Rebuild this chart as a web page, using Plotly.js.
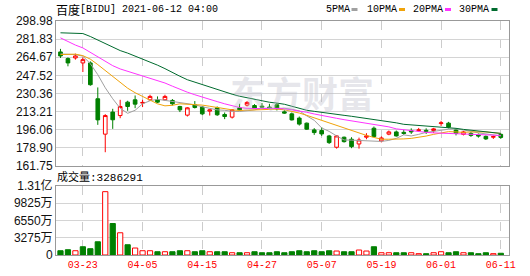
<!DOCTYPE html>
<html><head><meta charset="utf-8">
<script src="https://cdn.plot.ly/plotly-3.0.1.min.js"></script>
<style>html,body{margin:0;padding:0;background:#fff}#chart{width:530px;height:276px}</style>
</head><body><div id="chart"></div>
<script>
const dates = ['03-18','03-19','03-22','03-23','03-24','03-25','03-26','03-29','03-30','03-31','04-01',
'04-05','04-06','04-07','04-08','04-09','04-12','04-13','04-14','04-15','04-16','04-19','04-20','04-21','04-22','04-23','04-26','04-27','04-28','04-29','04-30',
'05-03','05-04','05-05','05-06','05-07','05-10','05-11','05-12','05-13','05-14','05-17','05-18','05-19','05-20','05-21','05-24','05-25','05-26','05-27','05-28',
'06-01','06-02','06-03','06-04','06-07','06-08','06-09','06-10','06-11'];
const openP = [269.7,263.4,264.0,259.3,259.3,225.4,191.9,212.8,209.5,222.2,224.4,221.3,224.4,224.4,224.4,223.8,218.1,209.9,219.7,217.5,213.7,216.8,210.5,208.0,216.8,219.4,219.0,218.4,217.5,219.7,213.0,211.1,207.1,202.3,195.9,195.3,190.2,179.5,189.0,187.1,182.6,189.0,197.5,185.5,191.9,194.0,193.6,195.3,195.3,195.5,195.3,201.9,202.3,195.9,191.7,192.6,191.2,189.8,189.0,191.7];
const highP = [272.6,264.6,268.1,264.6,260.8,236.1,210.8,215.9,224.4,223.5,228.5,224.4,229.2,227.6,229.2,225.1,218.7,217.5,223.2,218.7,215.3,218.1,212.4,215.6,220.6,223.2,220.3,221.3,220.6,221.3,214.9,212.4,208.6,202.9,197.6,198.5,191.2,190.9,189.6,189.0,188.6,192.8,199.1,189.8,195.3,195.3,195.9,197.4,197.8,197.4,197.8,204.5,203.5,196.9,195.0,194.0,192.6,190.7,190.7,192.6];
const lowP = [264.0,256.1,262.4,250.7,237.7,200.7,174.8,196.9,207.0,214.0,216.5,217.5,223.5,221.3,223.5,219.0,212.8,208.6,216.2,209.9,209.5,209.2,206.1,206.7,214.3,218.1,216.2,216.2,215.6,214.3,211.1,204.8,200.0,195.9,191.2,190.2,182.6,178.2,183.9,178.6,178.2,187.1,189.0,184.1,190.9,189.6,191.2,192.1,194.0,192.1,193.1,199.7,197.4,190.7,190.7,189.3,188.6,186.4,187.4,187.4];
const closeP = [265.9,259.3,265.9,262.4,238.7,205.4,209.5,205.5,218.1,218.1,220.3,221.9,227.6,222.2,227.6,220.6,214.9,216.8,217.1,211.1,214.9,210.2,208.6,214.9,214.9,221.9,216.5,217.5,216.5,215.9,211.8,205.4,201.4,196.6,193.4,192.1,183.9,190.2,184.8,180.1,186.4,190.2,189.6,188.3,194.0,190.2,192.6,194.0,195.9,194.5,196.9,202.6,198.5,192.6,194.0,190.7,190.2,187.4,189.6,188.8];
const ma5 = [267.8,267.6,267.2,265.7,258.6,248.2,235.8,225.4,216.4,211.6,214.5,220.6,223.5,224.9,223.9,222.5,221.9,220.6,219.7,217.8,216.4,214.9,214.5,213.5,213.3,214.0,214.9,216.4,216.5,216.5,216.4,215.4,214.0,209.2,205.0,197.8,194.5,190.2,186.4,186.2,185.8,185.5,185.2,185.0,186.0,187.9,191.2,190.2,191.7,193.6,194.5,195.9,196.6,196.9,195.9,194.7,193.1,191.9,190.7,190.2];
const ma10 = [267.2,267.6,267.6,266.2,262.9,257.7,252.0,246.3,241.1,235.4,231.1,227.8,224.4,220.6,218.7,219.2,220.6,220.3,220.0,219.4,218.3,217.0,215.9,214.9,214.3,214.6,214.9,215.1,215.4,215.6,214.9,213.5,211.9,209.7,207.3,205.0,202.6,200.2,197.8,195.5,192.8,190.7,188.8,187.1,187.1,187.1,187.4,187.9,188.8,190.1,191.7,193.3,194.3,194.0,193.6,194.0,194.3,194.0,193.3,192.6];
const ma20 = [283.0,279.2,276.2,273.5,269.5,265.3,261.0,256.7,253.6,251.4,249.1,246.7,244.4,242.3,240.3,237.3,234.3,231.6,229.2,226.8,224.7,222.7,220.6,218.7,217.1,216.3,215.9,216.1,216.3,216.1,215.9,214.9,214.0,212.6,211.0,209.4,208.0,206.9,205.6,204.5,203.2,202.6,201.6,200.2,198.8,196.9,195.9,195.3,194.5,193.6,193.1,192.8,192.5,192.1,191.9,191.6,191.4,191.2,191.0,190.7];
const ma30 = [287.8,287.6,287.3,287.1,284.3,280.9,277.6,274.3,271.0,268.6,265.9,262.9,260.5,257.2,253.9,250.1,246.7,243.4,241.1,238.7,236.3,233.9,232.0,229.7,227.8,226.3,224.4,223.0,222.1,221.3,220.2,218.3,216.4,214.5,213.5,212.4,211.6,210.7,209.7,208.8,207.8,206.9,205.9,205.2,204.0,202.6,201.2,200.7,200.2,199.7,199.3,198.8,198.3,197.4,196.4,195.5,194.7,193.8,193.1,192.6];
const volume = [8100000,10000000,8100000,15600000,11900000,25000000,119700000,59500000,42000000,19400000,13200000,8100000,8100000,6200000,6200000,6200000,8100000,8100000,6200000,8100000,6200000,6200000,6200000,4300000,4300000,4300000,6200000,4300000,4300000,6200000,4300000,6200000,8100000,6200000,8100000,6200000,8100000,7500000,6200000,6200000,9400000,7500000,15600000,4300000,4300000,4300000,4300000,4300000,2500000,2500000,4300000,6200000,4300000,6200000,4300000,4300000,2500000,4300000,2500000,3286291];
const volDir = ['d','d','u','d','d','d','u','d','u','d','u','u','u','d','u','d','d','u','d','d','u','d','d','u','d','u','d','d','d','d','d','d','d','d','d','d','d','u','d','d','u','u','d','u','u','d','d','u','u','d','u','u','d','d','u','d','d','d','u','d'];
const priceTickText = ['161.75','178.90','196.06','213.21','230.36','247.52','264.67','281.83','298.98'];
const volTickVals = [0,32750000,65500000,98250000,131000000];
const volTickText = ['0','3275万','6550万','9825万','1.31亿'];
const dateTicks = ['03-23','04-05','04-15','04-27','05-07','05-19','06-01','06-11'];
const maNames = ['5PMA','10PMA','20PMA','30PMA'];
const lastVolLabel = '成交量:3286291';
const stockName = '百度';
const titleRest = '[BIDU] 2021-06-12 04:00';

const RED = '#ff0000', GREEN = '#008000';
const maColors = ['#a0a0a0','#f0a30a','#ff33ff','#006b2e'];
const xr = [-0.6, 60.1];

const traces = [
  {type:'candlestick', x:dates, open:openP, high:highP, low:lowP, close:closeP, xaxis:'x', yaxis:'y',
   increasing:{line:{color:RED,width:1}, fillcolor:'#ffffff'},
   decreasing:{line:{color:GREEN,width:1}, fillcolor:GREEN},
   whiskerwidth:0, showlegend:false, hoverinfo:'skip'}
];
[ma5, ma10, ma20, ma30].forEach((m,i)=>{
  traces.push({type:'scatter', mode:'lines', x:dates, y:m, xaxis:'x', yaxis:'y',
    line:{color:maColors[i], width:1}, name:maNames[i], showlegend:false, hoverinfo:'skip'});
});
traces.push({type:'bar', x:dates, y:volume, xaxis:'x2', yaxis:'y2',
  marker:{color:volDir.map(d=>d==='u'?'#ffffff':GREEN), line:{color:volDir.map(d=>d==='u'?RED:GREEN), width:1}},
  showlegend:false, hoverinfo:'skip'});

const W=453, H=234, L=56, T=21;
const px2x = p => (p-L)/W;
const py2y = p => (T+H-p)/H;

const annotations = [
  {text:'东方财富', xref:'paper', yref:'paper', x:px2x(302), y:py2y(92), xanchor:'center', yanchor:'middle',
   showarrow:false, font:{family:'Noto Sans CJK SC', size:36, color:'rgba(185,185,198,0.35)', weight:700}},
  {text:stockName, xref:'paper', yref:'paper', x:px2x(54), y:py2y(10), xanchor:'left', yanchor:'middle',
   showarrow:false, font:{family:'Noto Sans CJK SC', size:12, color:'#000'}},
  {text:titleRest, xref:'paper', yref:'paper', x:px2x(78), y:py2y(10), xanchor:'left', yanchor:'middle',
   showarrow:false, font:{family:'Liberation Mono', size:10, color:'#000'}},
  {text:lastVolLabel, xref:'paper', yref:'paper', x:px2x(55), y:py2y(176.5), xanchor:'left', yanchor:'middle',
   showarrow:false, font:{family:'Liberation Mono, Noto Sans CJK SC', size:11, color:'#000'}}
];
const legX = [326, 367, 413, 459];
const swX = [351.5, 399, 445, 491.5];
const shapes = [];
maNames.forEach((n,i)=>{
  annotations.push({text:n, xref:'paper', yref:'paper', x:px2x(legX[i]-2), y:py2y(9.5), xanchor:'left', yanchor:'middle',
    showarrow:false, font:{family:'Liberation Mono', size:10, color:'#000'}});
  shapes.push({type:'rect', xref:'paper', yref:'paper', x0:px2x(swX[i]), x1:px2x(swX[i]+6), y0:py2y(11), y1:py2y(8),
    fillcolor:maColors[i], line:{width:0}});
});

const layout = {
  width:530, height:276, paper_bgcolor:'#fff', plot_bgcolor:'#fff',
  margin:{l:L, r:21, t:T, b:21},
  showlegend:false, bargap:0.3, boxgap:0.3,
  xaxis:{type:'category', range:xr, anchor:'y', showticklabels:false, tickvals:dateTicks, ticks:'',
    showgrid:true, gridcolor:'#cccccc', griddash:'dash', gridwidth:1,
    showline:true, mirror:true, linecolor:'#999', linewidth:1, zeroline:false, rangeslider:{visible:false}, fixedrange:true},
  yaxis:{domain:[0.3803,1], range:[161.75,298.98], tickvals:priceTickText.map(Number), ticktext:priceTickText,
    showgrid:true, gridcolor:'#d4d4d4', gridwidth:1, showline:true, mirror:true, linecolor:'#999', linewidth:1,
    zeroline:false, ticks:'', tickfont:{family:'Liberation Sans', size:12, color:'#111'}, fixedrange:true},
  xaxis2:{type:'category', range:xr, anchor:'y2', tickvals:dateTicks, ticktext:dateTicks, ticks:'',
    tickfont:{family:'Liberation Mono', size:10, color:RED},
    showgrid:true, gridcolor:'#cccccc', griddash:'dash', gridwidth:1,
    showline:true, mirror:true, linecolor:'#999', linewidth:1, zeroline:false, fixedrange:true},
  yaxis2:{domain:[0,0.2962], range:[0,131000000], tickvals:volTickVals, ticktext:volTickText,
    showgrid:true, gridcolor:'#d4d4d4', gridwidth:1, showline:true, mirror:true, linecolor:'#999', linewidth:1,
    zeroline:false, ticks:'', tickfont:{family:'Liberation Sans, Noto Sans CJK SC', size:12, color:'#111'}, fixedrange:true},
  annotations:annotations, shapes:shapes
};
Plotly.newPlot('chart', traces, layout, {displayModeBar:false, staticPlot:true});
</script></body></html>
